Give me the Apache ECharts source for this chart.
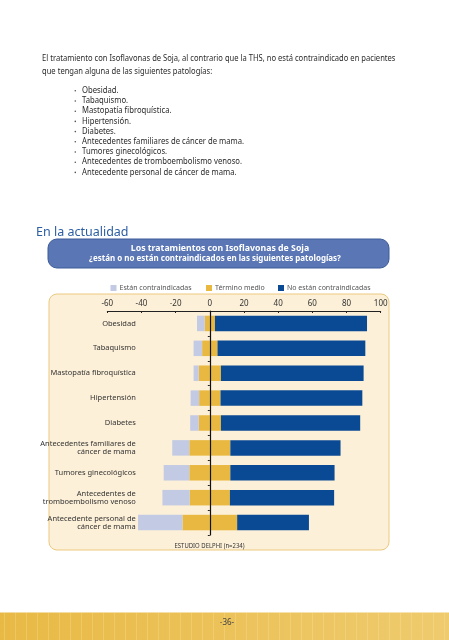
<!DOCTYPE html>
<html>
<head>
<meta charset="utf-8">
<script src="https://cdn.jsdelivr.net/npm/echarts@6/dist/echarts.min.js"></script>
<style>
html,body{margin:0;padding:0;background:#fff;}
#c{width:449px;height:640px;}
</style>
</head>
<body>
<div id="c"></div>
<script>
// ---- data ----
const categories = [
  'Obesidad',
  'Tabaquismo',
  'Mastopatía fibroquística',
  'Hipertensión',
  'Diabetes',
  'Antecedentes familiares de\ncáncer de mama',
  'Tumores ginecológicos',
  'Antecedentes de\ntromboembolismo venoso',
  'Antecedente personal de\ncáncer de mama'
];
const contraindicadas   = [4.5, 5, 3, 5, 5, 10, 15, 16, 26];
const terminoMedio      = [6, 9, 13, 12.5, 13, 24, 24, 23.5, 32];
const noContraindicadas = [89, 86.5, 83.5, 83, 81.5, 64.5, 61, 61, 42];
const seriesNames = ['Están contraindicadas', 'Término medio', 'No están contraindicadas'];
const xTicks = { min: -60, max: 100, interval: 20 };

const introLines = [
  'El tratamiento con Isoflavonas de Soja, al contrario que la THS, no está contraindicado en pacientes',
  'que tengan alguna de las siguientes patologías:'
];
const bulletItems = [
  'Obesidad.',
  'Tabaquismo.',
  'Mastopatía fibroquística.',
  'Hipertensión.',
  'Diabetes.',
  'Antecedentes familiares de cáncer de mama.',
  'Tumores ginecológicos.',
  'Antecedentes de tromboembolismo venoso.',
  'Antecedente personal de cáncer de mama.'
];
const sectionTitle = 'En la actualidad';
const headerLines = ['Los tratamientos con Isoflavonas de Soja', '¿están o no están contraindicados en las siguientes patologías?'];
const sourceNote = 'ESTUDIO DELPHI (n=234)';
const pageNumber = '-36-';

// ---- styles ----
const C_LIGHT = '#c3cae3', C_MID = '#e8b840', C_DARK = '#0a4a94';
const BODY_FONT = "'Noto Sans', sans-serif";
const NARROW = "'Liberation Sans Narrow', 'Noto Sans', sans-serif";

const graphics = [];
function txt(x, y, text, o) {
  o = o || {};
  graphics.push({
    type: 'text', x: x, y: y, z: o.z || 20,
    scaleX: o.scaleX || 1,
    style: {
      text: text, fill: o.fill || '#333',
      font: (o.weight || 'normal') + ' ' + (o.size || 9) + 'px ' + (o.family || BODY_FONT),
      align: o.align || 'left', verticalAlign: 'middle',
      textAlign: o.align || 'left', textVerticalAlign: 'middle'
    }
  });
}
introLines.forEach((t, i) => txt(42, 58.5 + i * 12.8, t, { size: 9.5, scaleX: 0.8, fill: '#2a2a2a' }));
bulletItems.forEach((t, i) => {
  graphics.push({ type: 'circle', z: 20, shape: { cx: 75.3, cy: 90.8 + i * 10.2, r: 0.8 }, style: { fill: '#555' } });
  txt(82, 90.3 + i * 10.2, t, { size: 9.5, scaleX: 0.81, fill: '#2a2a2a' });
});
txt(36, 232.5, sectionTitle, { size: 12.5, scaleX: 1, fill: '#2c5ea3' });

// header box
graphics.push({ type: 'rect', z: 5, shape: { x: 48, y: 239, width: 341, height: 29, r: 9 },
  style: { fill: '#5a76b5', stroke: '#3d5a99', lineWidth: 1 } });
txt(220, 248.5, headerLines[0], { size: 9.5, weight: 'bold', align: 'center', fill: '#fff', scaleX: 0.92 });
txt(215, 258.6, headerLines[1], { size: 9.5, weight: 'bold', align: 'center', fill: '#fff', scaleX: 0.84 });

// panel
graphics.push({ type: 'rect', z: -10, shape: { x: 49, y: 294, width: 340, height: 256, r: 8 },
  style: { fill: '#fdf0d8', stroke: '#ebc97f', lineWidth: 1 } });
txt(209.5, 545.5, sourceNote, { size: 7, align: 'center', fill: '#333', scaleX: 0.85 });

// footer band
graphics.push({ type: 'rect', z: -10, shape: { x: 0, y: 612.5, width: 449, height: 28 },
  style: { fill: new echarts.graphic.LinearGradient(0, 0, 1, 0, [{ offset: 0, color: '#e8b945' }, { offset: 1, color: '#efcb6e' }]) } });
for (let x = 4; x < 449; x += 11) {
  graphics.push({ type: 'rect', z: -9, shape: { x: x, y: 612.5, width: 1, height: 28 }, style: { fill: 'rgba(255,235,170,0.28)' } });
}
txt(227, 623, pageNumber, { size: 8, align: 'center', fill: '#444' });

const leftMid = terminoMedio.map(v => -v / 2);
const rightMid = terminoMedio.map(v => v / 2);
const negContra = contraindicadas.map(v => -v);

const legendCommon = { top: 284.5, padding: 0, itemWidth: 6, itemHeight: 6, itemGap: 4, icon: 'rect',
  textStyle: { fontSize: 7, color: '#555', fontFamily: NARROW, padding: [0, 0, 0, -2] } };

const option = {
  animation: false,
  backgroundColor: '#fff',
  graphic: graphics,
  legend: [
    Object.assign({ left: 110.5, data: [seriesNames[0]] }, legendCommon),
    Object.assign({ left: 206, data: [seriesNames[1]] }, legendCommon),
    Object.assign({ left: 278, data: [seriesNames[2]] }, legendCommon)
  ],
  grid: { left: 107.3, right: 449 - 380.7, top: 311, height: 224, containLabel: false },
  xAxis: {
    type: 'value', position: 'top', min: xTicks.min, max: xTicks.max, interval: xTicks.interval,
    axisLine: { show: true, lineStyle: { color: '#222', width: 1 } },
    axisTick: { show: true, inside: true, length: 2, lineStyle: { color: '#222' } },
    axisLabel: { fontSize: 8, color: '#333', margin: 3, fontFamily: NARROW },
    splitLine: { show: false }
  },
  yAxis: [
    {
      type: 'category', inverse: true, data: categories, position: 'left', offset: -28.5,
      axisLine: { show: false, onZero: false }, axisTick: { show: false },
      axisLabel: { fontSize: 7.5, color: '#333', margin: 0, lineHeight: 8.3, fontFamily: NARROW, align: 'right' }
    },
    {
      type: 'category', inverse: true, data: categories, position: 'left', z: 10,
      axisLine: { show: true, onZero: true, lineStyle: { color: '#111', width: 1.2 } },
      axisTick: { show: true, length: 2, lineStyle: { color: '#222' } },
      axisLabel: { show: false }
    }
  ],
  series: [
    { name: seriesNames[1], type: 'bar', stack: 's', data: leftMid, barWidth: 15.5, itemStyle: { color: C_MID } },
    { name: seriesNames[0], type: 'bar', stack: 's', data: negContra, barWidth: 15.5, itemStyle: { color: C_LIGHT } },
    { name: seriesNames[1], type: 'bar', stack: 's', data: rightMid, barWidth: 15.5, itemStyle: { color: C_MID } },
    { name: seriesNames[2], type: 'bar', stack: 's', data: noContraindicadas, barWidth: 15.5, itemStyle: { color: C_DARK } }
  ]
};
const chart = echarts.init(document.getElementById('c'), null, { renderer: 'canvas' });
chart.setOption(option);
</script>
</body>
</html>
